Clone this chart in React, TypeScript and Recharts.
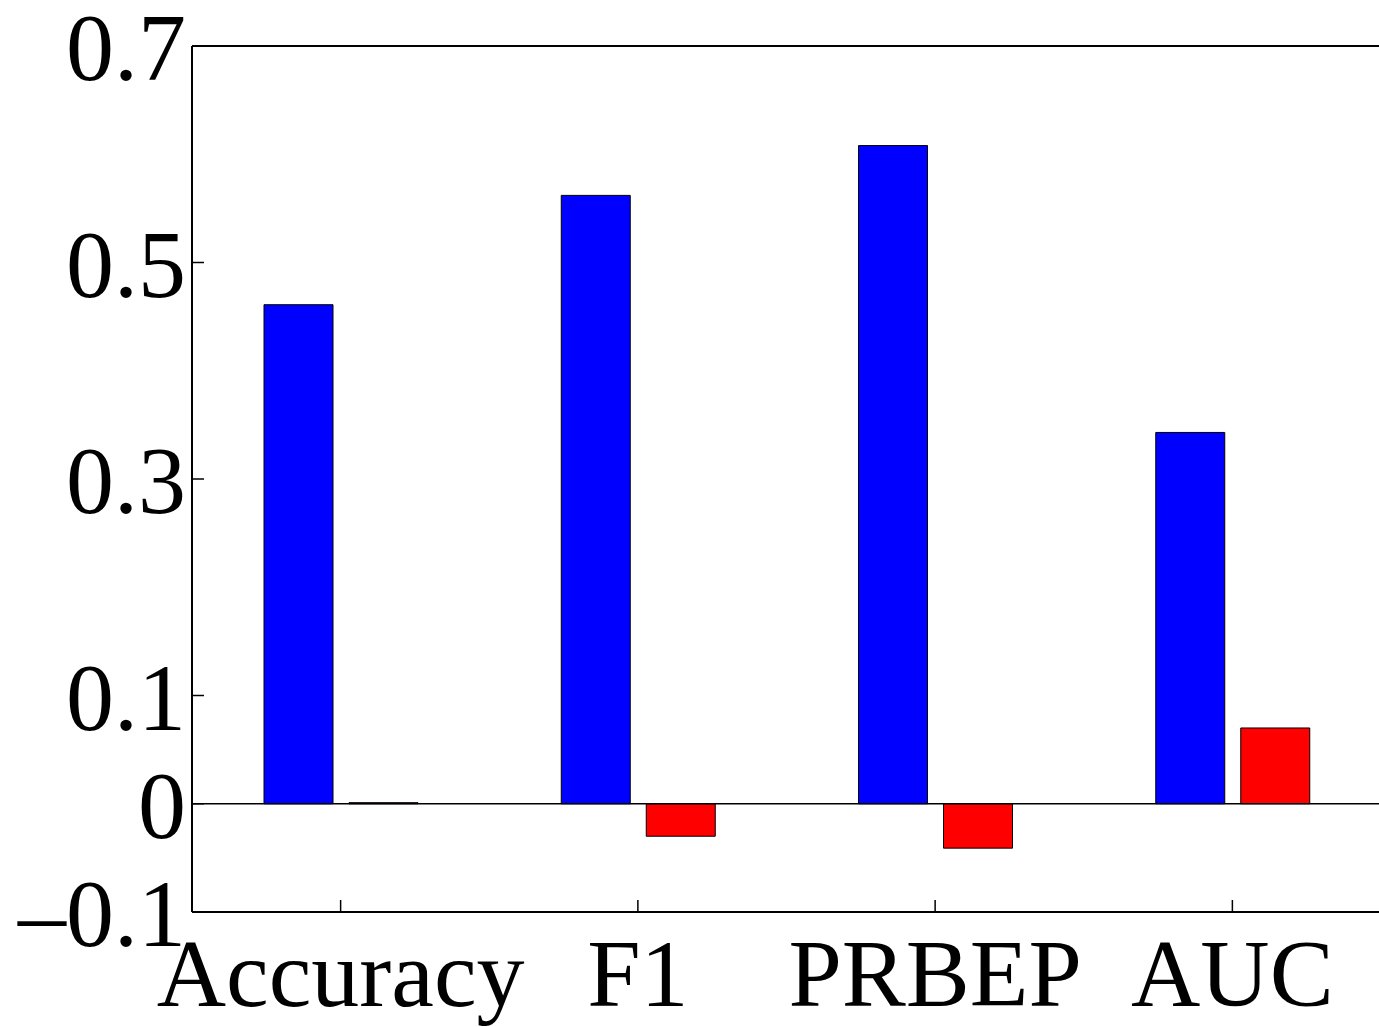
import {
  BarChart,
  Bar,
  XAxis,
  YAxis,
  ReferenceLine,
} from "recharts";

const categories = ["Accuracy", "F1", "PRBEP", "AUC"];
const blueValues = [0.461, 0.562, 0.608, 0.343];
const redValues = [0.001, -0.03, -0.041, 0.07];
const yTicks = [-0.1, 0, 0.1, 0.3, 0.5, 0.7];

const data = categories.map((name, i) => ({
  name,
  blue: blueValues[i],
  red: redValues[i],
}));

const font = "'Liberation Serif', 'Times New Roman', serif";
const tickStyle = { fontSize: 96, fill: "#000", fontFamily: font };
const line = { stroke: "#000", strokeWidth: 2 };
const tickLine = { stroke: "#000", strokeWidth: 1.5 };

const fmt = (v: number) => (v < 0 ? "\u2013" + Math.abs(v) : String(v));

export default function App() {
  return (
    <div
      style={{
        position: "fixed",
        left: 0,
        top: 0,
        width: 1379,
        height: 1027,
        overflow: "hidden",
        background: "#fff",
      }}
    >
      <BarChart
        width={1382}
        height={1027}
        data={data}
        margin={{ top: 0, right: 0, bottom: 0, left: 0 }}
        barSize={69}
        barGap={16}
      >
        <XAxis
          dataKey="name"
          xAxisId="bottom"
          orientation="bottom"
          height={115}
          interval={0}
          tick={tickStyle}
          axisLine={line}
          tickLine={tickLine}
          tickSize={-12}
          tickMargin={38}
        />
        <XAxis
          dataKey="name"
          xAxisId="top"
          orientation="top"
          height={46}
          interval={0}
          tick={false}
          axisLine={line}
          tickLine={tickLine}
          tickSize={-12}
        />
        <YAxis
          yAxisId="left"
          orientation="left"
          width={192}
          domain={[-0.1, 0.7]}
          ticks={yTicks}
          interval={0}
          tick={tickStyle}
          tickFormatter={fmt}
          axisLine={line}
          tickLine={tickLine}
          tickSize={-12}
          tickMargin={18}
          allowDataOverflow
        />
        <YAxis
          yAxisId="right"
          orientation="right"
          width={1}
          domain={[-0.1, 0.7]}
          ticks={yTicks}
          interval={0}
          tick={false}
          axisLine={line}
          tickLine={tickLine}
          tickSize={-12}
          allowDataOverflow
        />
        <ReferenceLine
          y={0}
          yAxisId="left"
          xAxisId="bottom"
          stroke="#000"
          strokeWidth={1.5}
        />
        <Bar
          dataKey="blue"
          xAxisId="bottom"
          yAxisId="left"
          fill="#0000FF"
          stroke="#000"
          strokeWidth={1}
          isAnimationActive={false}
        />
        <Bar
          dataKey="red"
          xAxisId="bottom"
          yAxisId="left"
          fill="#FF0000"
          stroke="#000"
          strokeWidth={1}
          isAnimationActive={false}
        />
      </BarChart>
    </div>
  );
}
